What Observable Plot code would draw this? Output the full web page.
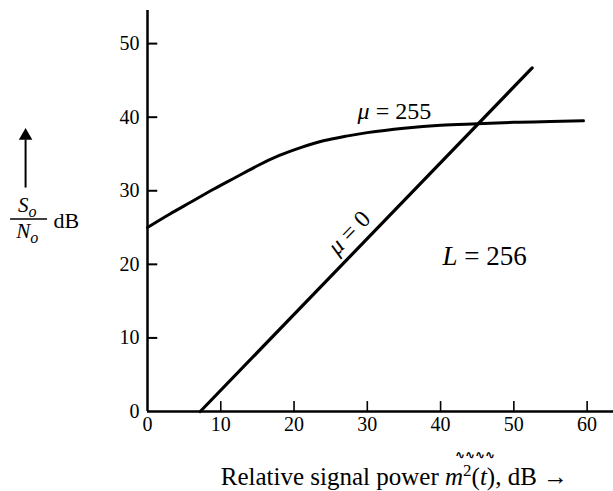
<!DOCTYPE html>
<html><head><meta charset="utf-8">
<script src="https://cdn.jsdelivr.net/npm/d3@7"></script>
<script src="https://cdn.jsdelivr.net/npm/@observablehq/plot@0.6"></script>
<style>body{margin:0;background:#fff;} svg{display:block}</style>
</head><body><div id="chart"></div>
<script>
const xTicks = [0, 10, 20, 30, 40, 50, 60];
const yTicks = [0, 10, 20, 30, 40, 50];
const mu255Power = [0, 3, 6, 9, 12, 15, 18, 21, 24, 27, 30, 35, 40, 45, 50, 55, 59.5];
const mu255SNR   = [25, 26.8, 28.5, 30.2, 31.8, 33.4, 34.8, 35.9, 36.8, 37.4, 37.9, 38.5, 38.9, 39.1, 39.3, 39.4, 39.5];
const mu0Power = [7.2, 52.5];
const mu0SNR   = [0, 46.7];
const curveLabels = ["μ = 255", "μ = 0"];
const levelLabel = ["L = 256"];
const xLabel = ["Relative signal power m2(t), dB →"];
const yLabelNum = ["So"];
const yLabelDen = ["No"];
const yLabelUnit = ["dB"];
const overMark = ["∿∿∿∿"];

const mu255 = mu255Power.map((x, i) => ({x, y: mu255SNR[i]}));
const mu0 = mu0Power.map((x, i) => ({x, y: mu0SNR[i]}));

const plot = Plot.plot({
  width: 613,
  height: 491,
  marginLeft: 147,
  marginRight: 0,
  marginTop: 10,
  marginBottom: 80,
  style: {fontFamily: "'Liberation Serif', 'Times New Roman', serif", background: "white", color: "black", overflow: "visible"},
  x: {domain: [0, 63.6], axis: null},
  y: {domain: [0, 54.5], axis: null},
  marks: [
    // axes
    Plot.ruleY([0], {x1: 0, x2: 63.6, strokeWidth: 2.5}),
    Plot.ruleX([0], {y1: 0, y2: 54.5, strokeWidth: 2.5}),
    Plot.ruleX(xTicks.slice(1), {x: d => d, y1: 0, y2: 1.35, strokeWidth: 1.6}),
    Plot.ruleY(yTicks.slice(1), {y: d => d, x1: 0, x2: 1.4, strokeWidth: 2}),
    Plot.text(xTicks, {x: d => d, y: 0, text: d => String(d), dy: 13, fontSize: 20}),
    Plot.text(yTicks, {x: 0, y: d => d, text: d => String(d), textAnchor: "end", dx: -8, fontSize: 20}),
    // curves
    Plot.line(mu255, {x: "x", y: "y", curve: "natural", strokeWidth: 3}),
    Plot.line(mu0, {x: "x", y: "y", strokeWidth: 3.2}),
    // annotations
    Plot.text([curveLabels[0]], {x: 33.7, y: 40.8, text: d => d, fontSize: 24}),
    Plot.text([curveLabels[1]], {x: 27.5, y: 24.3, text: d => d, rotate: -46, fontSize: 24}),
    Plot.text(levelLabel, {x: 46, y: 21.1, text: d => d, fontSize: 27}),
    // x label
    Plot.text(xLabel, {x: 10, y: -9.95, text: d => d, textAnchor: "start", lineAnchor: "bottom", fontSize: 25}),
    Plot.text(overMark, {x: 44.7, y: -5.9, text: d => d, fontFamily: "DejaVu Sans", fontWeight: "bold", fontSize: 12}),
    // y label
    Plot.ruleX([-16.64], {y1: 30.37, y2: 36.9, strokeWidth: 2}),
    Plot.dot([0], {x: -16.64, y: 37.46, symbol: "triangle", r: 5, fill: "black"}),
    Plot.text(yLabelNum, {x: -16.4, y: 27.1, text: d => d, lineAnchor: "bottom", fontSize: 21}),
    Plot.ruleY([26.15], {x1: -18.69, x2: -13.64, strokeWidth: 1.5}),
    Plot.text(yLabelDen, {x: -16.4, y: 23.57, text: d => d, lineAnchor: "bottom", fontSize: 21}),
    Plot.text(yLabelUnit, {x: -12.82, y: 24.93, text: d => d, textAnchor: "start", lineAnchor: "bottom", fontSize: 22})
  ]
});

// rich text (italics, sub/superscripts)
const rich = {
  "μ = 255": [{t: "μ", i: true}, {t: " = 255"}],
  "μ = 0": [{t: "μ", i: true}, {t: " = 0"}],
  "L = 256": [{t: "L", i: true}, {t: " = 256"}],
  "Relative signal power m2(t), dB →": [
    {t: "Relative signal power "}, {t: "m", i: true}, {t: "2", fs: 17, dy: -9},
    {t: "("}, {t: "t", i: true}, {t: "), dB →"}
  ],
  "So": [{t: "S", i: true}, {t: "o", i: true, fs: 16, dy: 5}],
  "No": [{t: "N", i: true}, {t: "o", i: true, fs: 16, dy: 5}]
};
d3.select(plot).selectAll("text").each(function() {
  const parts = rich[this.textContent];
  if (!parts) return;
  const el = d3.select(this);
  el.text(null);
  let shift = 0;
  for (const p of parts) {
    const ts = el.append("tspan").text(p.t);
    if (p.i) ts.attr("font-style", "italic");
    if (p.fs) ts.attr("font-size", p.fs + "px");
    const want = p.dy || 0;
    if (want !== shift) { ts.attr("dy", want - shift); shift = want; }
  }
});

document.getElementById("chart").appendChild(plot);
</script>
</body></html>
